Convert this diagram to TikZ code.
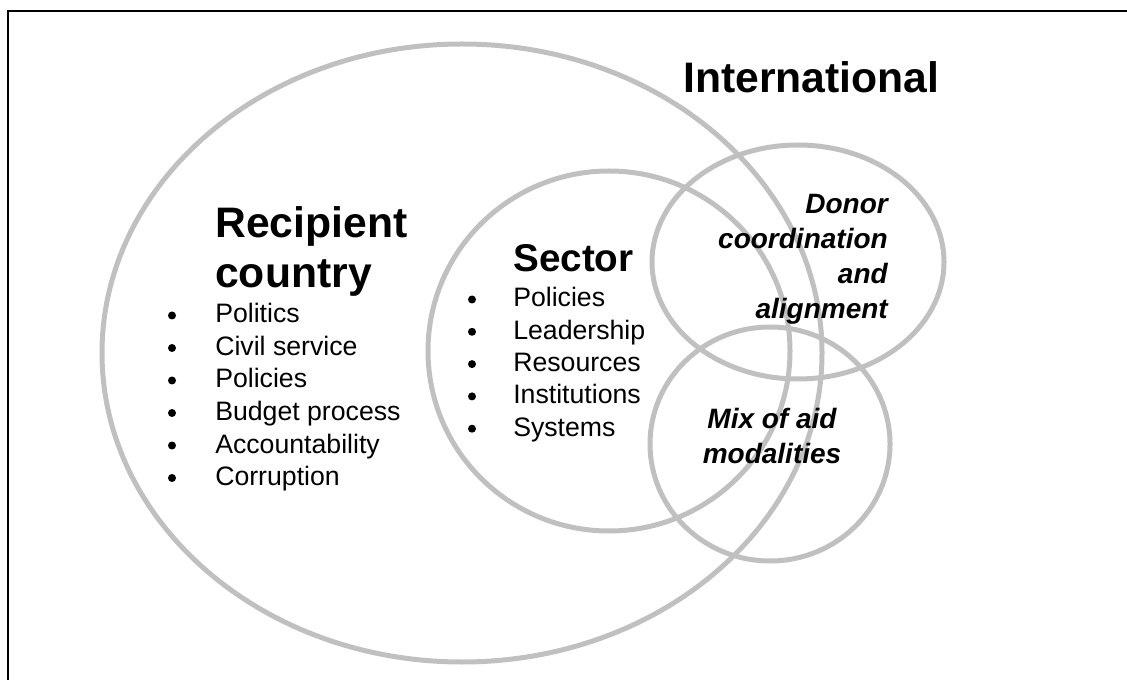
\documentclass[tikz,border=0pt]{standalone}
\usepackage{fontspec}
\setmainfont{Liberation Sans}
\usetikzlibrary{positioning}
\definecolor{ringgray}{HTML}{C0C0C0}

\tikzset{
  ring/.style={draw=ringgray,line width=3.75pt},
  frameline/.style={draw=black,line width=1.1pt},
  heading/.style={font=\fontsize{32}{38}\selectfont\bfseries,inner sep=0pt,anchor=base west},
  subheading/.style={font=\fontsize{29}{35}\selectfont\bfseries,inner sep=0pt,anchor=base west},
  item/.style={font=\fontsize{20}{24}\selectfont,inner sep=0pt,anchor=base west},
  dot/.style={circle,fill=black,inner sep=0pt,minimum size=6pt},
  aidtext/.style={font=\fontsize{21}{26}\selectfont\bfseries\itshape,inner sep=0pt}
}

\begin{document}
\begin{tikzpicture}[x=0.75pt,y=-0.75pt]
	\useasboundingbox (0,0) rectangle (1127,680);
	% frame (only top and left edge are visible)
	\draw [frameline] (8,681) -- (8,11) -- (1128,11);

	% the four rings
	\draw [ring] (462,353) ellipse [x radius=360,y radius=309];
	\draw [ring] (609,351) ellipse [x radius=181,y radius=180];
	\draw [ring] (798,262) ellipse [x radius=146,y radius=117];
	\draw [ring] (770,444) ellipse [x radius=120,y radius=117];

	\node [heading] (intl) at (683,93) {International};

	% recipient country
	\node [heading] (rec1) at (215,238) {Recipient};
	\node [heading] (rec2) at (215,288) {country};
	\foreach \txt [count=\i from 0] in {Politics,Civil service,Policies,Budget process,Accountability,Corruption}
	{
		\node [dot] (recdot\i) at (172,315.5+32.5*\i) {};
		\node [item] (recitem\i) at (215,323+32.5*\i) {\txt};
	}

	% sector
	\node [subheading] (sec) at (513,272) {Sector};
	\foreach \txt [count=\i from 0] in {Policies,Leadership,Resources,Institutions,Systems}
	{
		\node [dot] (secdot\i) at (472,299.5+32.3*\i) {};
		\node [item] (secitem\i) at (513,307+32.3*\i) {\txt};
	}

	% donor side
	\foreach \txt [count=\i from 0] in {Donor,coordination,and,alignment}
		\node [aidtext,anchor=base east] (donor\i) at (888,214+35*\i) {\txt};
	\node [aidtext,anchor=base] (mix1) at (772,428) {Mix of aid};
	\node [aidtext,anchor=base] (mix2) at (772,463) {modalities};
\end{tikzpicture}
\end{document}
